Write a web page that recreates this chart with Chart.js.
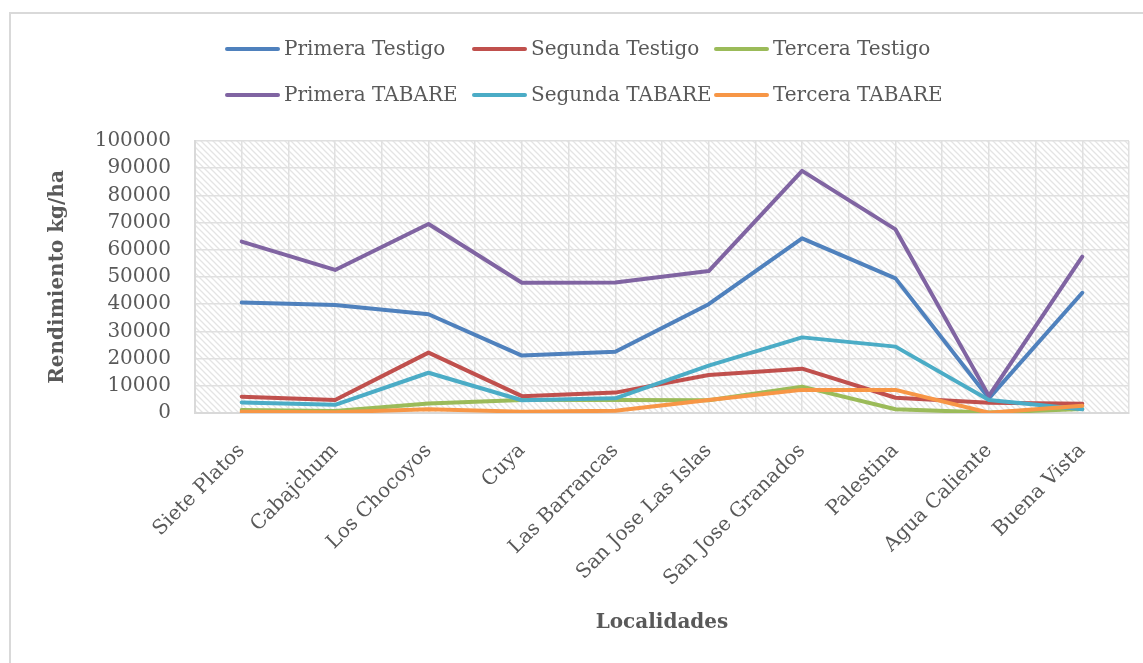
<!DOCTYPE html>
<html>
<head>
<meta charset="utf-8">
<script src="https://cdn.jsdelivr.net/npm/chart.js@4.4.1/dist/chart.umd.min.js"></script>
<style>
  html, body { margin: 0; padding: 0; background: #ffffff; overflow: hidden; }
  #wrap { position: relative; width: 1143px; height: 663px; }
  #frame { position: absolute; left: 9px; top: 12px; width: 1200px; height: 700px;
           border-left: 2px solid #d9d9d9; border-top: 2px solid #d9d9d9; box-sizing: border-box; }
  canvas { position: absolute; left: 0; top: 0; }
</style>
</head>
<body>
<div id="wrap">
  <div id="frame"></div>
  <canvas id="c" width="1143" height="663"></canvas>
</div>
<script>
const categories = ["Siete Platos", "Cabajchum", "Los Chocoyos", "Cuya", "Las Barrancas",
  "San Jose Las Islas", "San Jose Granados", "Palestina", "Agua Caliente", "Buena Vista"];

const seriesNames = ["Primera Testigo", "Segunda Testigo", "Tercera Testigo",
  "Primera TABARE", "Segunda TABARE", "Tercera TABARE"];

const primeraTestigo = [40600, 39700, 36300, 21100, 22500, 40000, 64200, 49500, 5400, 44200];
const segundaTestigo = [6000, 4800, 22200, 6200, 7500, 14000, 16300, 5600, 3800, 3400];
const terceraTestigo = [1100, 700, 3500, 4800, 4800, 4700, 9700, 1400, 150, 1500];
const primeraTabare = [63000, 52600, 69500, 47900, 48000, 52200, 89000, 67500, 6300, 57500];
const segundaTabare = [3900, 3000, 14800, 4700, 5400, 17400, 27800, 24400, 4800, 1400];
const terceraTabare = [500, 300, 1400, 500, 800, 4800, 8500, 8500, 100, 2700];

const yTicks = [0, 10000, 20000, 30000, 40000, 50000, 60000, 70000, 80000, 90000, 100000];

const seriesValues = [primeraTestigo, segundaTestigo, terceraTestigo, primeraTabare, segundaTabare, terceraTabare];
const seriesColors = ["#4F81BD", "#C0504D", "#9BBB59", "#8064A2", "#4BACC6", "#F79646"];

const textColor = "#595959";

// hatch pattern for plot background
function makePattern(ctx) {
  const n = 6;
  const p = document.createElement('canvas');
  p.width = n; p.height = n;
  const g = p.getContext('2d');
  g.fillStyle = '#ffffff';
  g.fillRect(0, 0, n, n);
  g.strokeStyle = '#e4e4e4';
  g.lineWidth = 1.3;
  g.beginPath();
  g.moveTo(-2, -2); g.lineTo(n + 2, n + 2);
  g.moveTo(-2, n - 2); g.lineTo(2, n + 2);
  g.moveTo(n - 2, -2); g.lineTo(n + 2, 2);
  g.stroke();
  return ctx.createPattern(p, 'repeat');
}

const hatchPlugin = {
  id: 'hatch',
  beforeDraw(chart) {
    const {ctx, chartArea: a} = chart;
    ctx.save();
    ctx.fillStyle = makePattern(ctx);
    ctx.fillRect(a.left, a.top, a.right - a.left, a.bottom - a.top);
    ctx.restore();
  }
};

const legendLayout = {
  rows: [49, 95],
  cols: [225, 472, 714],
  lineLen: 55,
  gap: 4
};

const customLegend = {
  id: 'customLegend',
  afterDraw(chart) {
    const {ctx} = chart;
    ctx.save();
    ctx.font = '20px "DejaVu Serif"';
    ctx.textBaseline = 'middle';
    ctx.textAlign = 'left';
    chart.data.datasets.forEach((ds, i) => {
      const r = Math.floor(i / 3), c = i % 3;
      const x = legendLayout.cols[c], y = legendLayout.rows[r];
      ctx.strokeStyle = ds.borderColor;
      ctx.lineWidth = 4;
      ctx.lineCap = 'round';
      ctx.beginPath();
      ctx.moveTo(x + 2, y);
      ctx.lineTo(x + legendLayout.lineLen - 2, y);
      ctx.stroke();
      ctx.fillStyle = textColor;
      ctx.fillText(ds.label, x + legendLayout.lineLen + legendLayout.gap, y + 1);
    });
    ctx.restore();
  }
};

const datasets = seriesNames.map((name, i) => ({
  label: name,
  data: seriesValues[i],
  borderColor: seriesColors[i],
  backgroundColor: seriesColors[i],
  borderWidth: 4,
  pointRadius: 0,
  pointHoverRadius: 0,
  tension: 0,
  borderJoinStyle: 'round',
  borderCapStyle: 'round',
  fill: false,
  order: seriesNames.length - i
}));

new Chart(document.getElementById('c'), {
  type: 'line',
  data: { labels: categories, datasets },
  options: {
    responsive: false,
    animation: false,
    devicePixelRatio: 1,
    layout: { padding: { top: 141, right: 14, left: 0, bottom: 0 } },
    plugins: {
      legend: { display: false },
      tooltip: { enabled: false }
    },
    scales: {
      x: {
        type: 'category',
        offset: true,
        afterFit: (s) => { s.height = 250; },
        grid: { offset: true, color: '#e0e0e0', lineWidth: 1.5, drawTicks: false },
        border: { display: true, color: '#d9d9d9', width: 2 },
        ticks: {
          color: textColor,
          font: { family: '"DejaVu Serif"', size: 20 },
          minRotation: 45, maxRotation: 45,
          autoSkip: false,
          padding: 26
        },
        title: {
          display: true,
          text: 'Localidades',
          color: textColor,
          font: { family: '"DejaVu Serif"', size: 20, weight: 'bold' },
          padding: { top: 0, bottom: 28 }
        }
      },
      x2: {
        type: 'category',
        position: 'bottom',
        offset: true,
        afterFit: (s) => { s.height = 0; },
        grid: { offset: false, color: '#e0e0e0', lineWidth: 1.5, drawTicks: false },
        border: { display: false },
        ticks: { display: false }
      },
      y: {
        min: 0,
        max: 100000,
        afterFit: (s) => { s.width = 195; },
        afterBuildTicks: (s) => { s.ticks = yTicks.map(v => ({ value: v })); },
        grid: { color: '#e0e0e0', lineWidth: 1.5, drawTicks: false },
        border: { display: true, color: '#d9d9d9', width: 2 },
        ticks: {
          color: textColor,
          font: { family: '"DejaVu Serif"', size: 20 },
          padding: 24,
          callback: (v) => String(v)
        },
        title: {
          display: true,
          text: 'Rendimiento kg/ha',
          color: textColor,
          font: { family: '"DejaVu Serif"', size: 20, weight: 'bold' },
          padding: { top: 46, bottom: 0 }
        }
      }
    }
  },
  plugins: [hatchPlugin, customLegend]
});
</script>
</body>
</html>
